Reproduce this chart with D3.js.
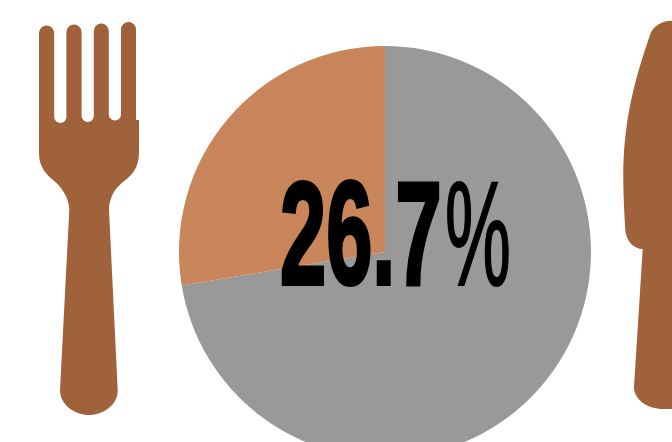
<!DOCTYPE html>
<html>
<head>
<meta charset="utf-8">
<script src="https://cdn.jsdelivr.net/npm/d3@7"></script>
<style>
  html, body { margin: 0; padding: 0; background: #fff; overflow: hidden; }
  svg { display: block; }
</style>
</head>
<body>
<div id="chart"></div>
<script>
// slices as drawn, clockwise from 12 o'clock
const categories = ["rest", "share"];
const sliceValues = [72.4, 27.6];
const sliceColors = ["#999999", "#c8865a"];
const labelNumber = "26.7";
const labelUnit = "%";

const width = 672, height = 442;
const centerX = 385, centerY = 252, radius = 206;

const svg = d3.select("#chart").append("svg")
  .attr("width", width)
  .attr("height", height)
  .attr("viewBox", `0 0 ${width} ${height}`);

// pie
const pie = d3.pie().sort(null);
const arc = d3.arc().innerRadius(0).outerRadius(radius);
const color = d3.scaleOrdinal().domain(categories).range(sliceColors);

svg.append("g")
  .attr("transform", `translate(${centerX},${centerY})`)
  .selectAll("path")
  .data(pie(sliceValues))
  .enter()
  .append("path")
  .attr("d", arc)
  .attr("fill", (d, i) => color(categories[i]));

// fork and knife icons
const iconColor = "#a0623a";

const fork = d3.path();
fork.moveTo(39, 33);
fork.arc(46.6, 33, 7.6, Math.PI, 0);
fork.lineTo(54.2, 117);
fork.arc(60.3, 117, 6.1, Math.PI, 0, true);
fork.lineTo(66.4, 32);
fork.arc(74, 32, 7.6, Math.PI, 0);
fork.lineTo(81.6, 116);
fork.arc(87.7, 116, 6.1, Math.PI, 0, true);
fork.lineTo(93.8, 31);
fork.arc(101.3, 31, 7.5, Math.PI, 0);
fork.lineTo(108.8, 114.5);
fork.arc(114.9, 114.5, 6.1, Math.PI, 0, true);
fork.lineTo(121, 29.5);
fork.arc(128.5, 29.5, 7.5, Math.PI, 0);
fork.lineTo(136, 120);
fork.lineTo(139, 120);
fork.lineTo(139, 153);
fork.bezierCurveTo(139, 168, 131, 176, 123, 182);
fork.bezierCurveTo(115, 188, 109, 198, 109, 210);
fork.lineTo(117.7, 390);
fork.bezierCurveTo(118, 405, 103, 415, 89, 415);
fork.bezierCurveTo(75, 415, 60, 405, 60, 390);
fork.lineTo(69.3, 210);
fork.bezierCurveTo(69, 198, 62, 187, 53, 180);
fork.bezierCurveTo(46, 174, 39, 167, 39, 153);
fork.closePath();

const knife = d3.path();
knife.moveTo(690, 20.7);
knife.lineTo(672, 20.7);
knife.bezierCurveTo(661, 21, 653, 26, 650, 35);
knife.bezierCurveTo(633, 84, 623, 125, 623.3, 180);
knife.bezierCurveTo(623.5, 200, 624.5, 215, 625.3, 230);
knife.bezierCurveTo(626, 241, 634, 249, 642.7, 249);
knife.lineTo(634, 387);
knife.bezierCurveTo(634, 400, 648, 409, 663, 409);
knife.lineTo(690, 409);
knife.closePath();

svg.append("path").attr("d", fork.toString()).attr("fill", iconColor);
svg.append("path").attr("d", knife.toString()).attr("fill", iconColor);

// big label: no condensed font installed, so squeeze Liberation Sans sideways
svg.append("text")
  .attr("transform", "translate(280,284) scale(0.565,1)")
  .attr("font-family", "'Liberation Sans', sans-serif")
  .attr("font-weight", "700")
  .attr("font-size", 147)
  .attr("fill", "#000")
  .attr("stroke", "#000")
  .attr("stroke-width", 4)
  .text(labelNumber);

svg.append("text")
  .attr("transform", "translate(445,285) scale(0.5,1)")
  .attr("font-family", "'Liberation Sans', sans-serif")
  .attr("font-weight", "400")
  .attr("font-size", 148)
  .attr("fill", "#000")
  .attr("stroke", "#000")
  .attr("stroke-width", 2)
  .text(labelUnit);
</script>
</body>
</html>
